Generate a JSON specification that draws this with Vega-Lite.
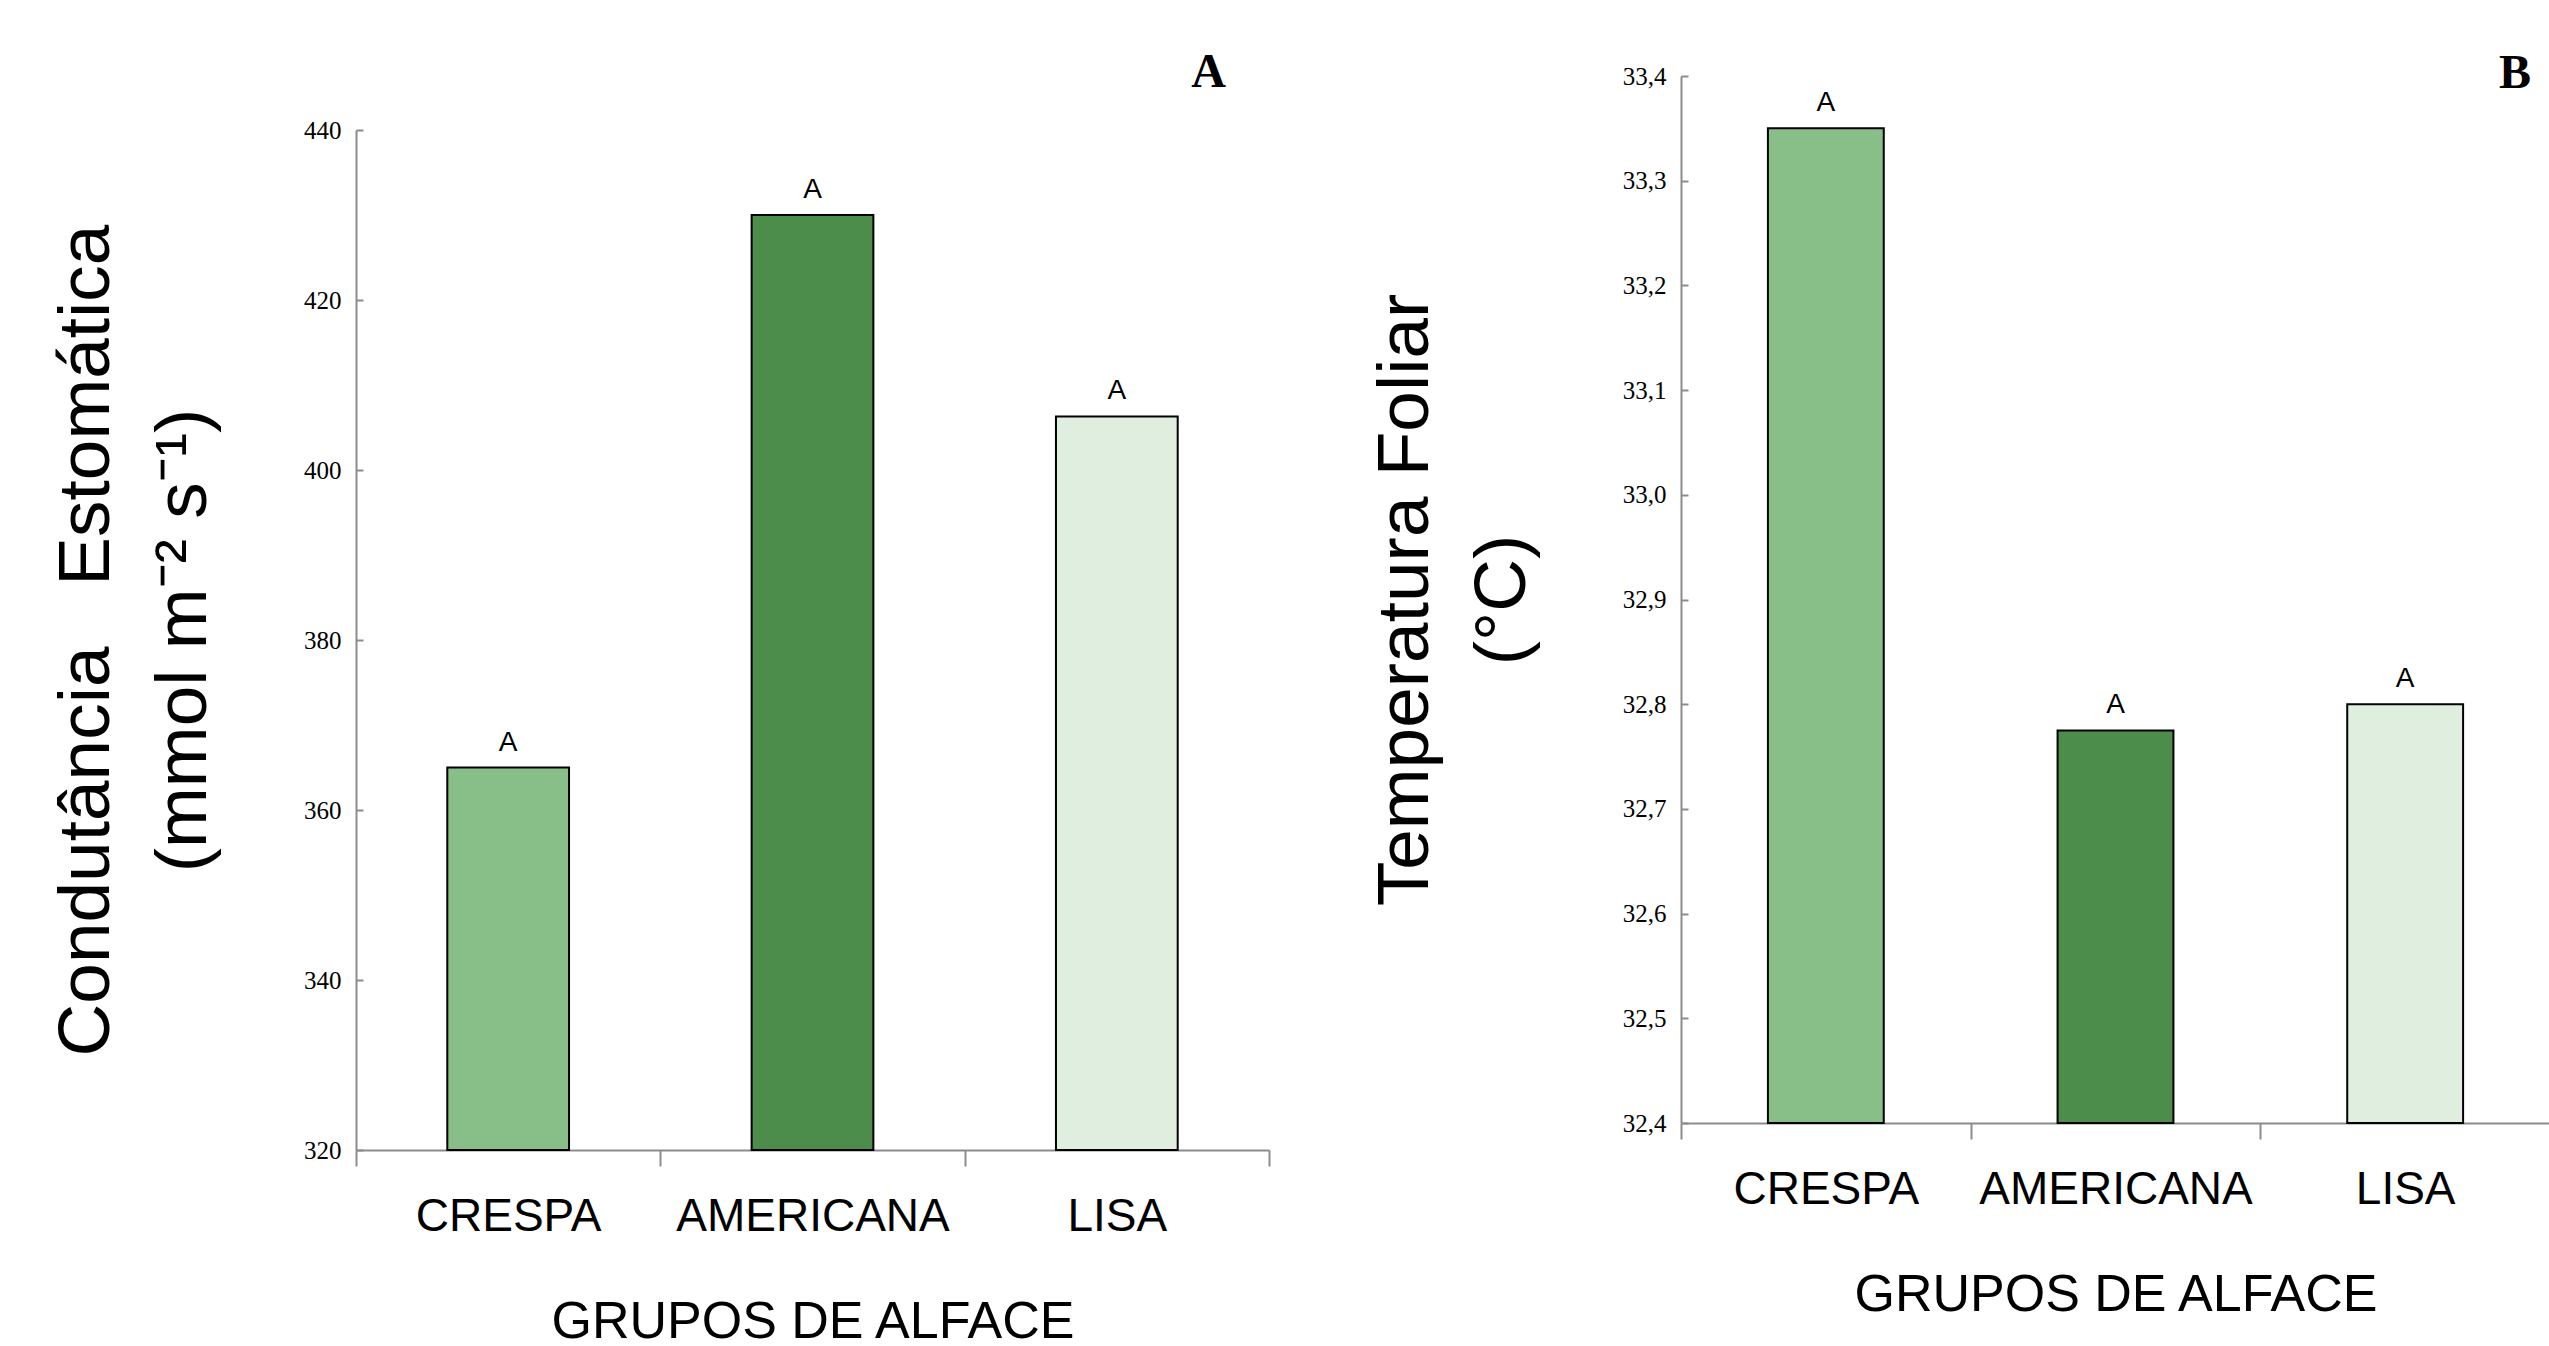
{
  "$schema": "https://vega.github.io/schema/vega-lite/v6.json",
  "background": "white",
  "padding": {"left": 50, "top": 49, "right": 0, "bottom": 0},
  "spacing": 99,
  "config": {
    "view": {"stroke": null},
    "axis": {
      "grid": false,
      "domainColor": "#8c8c8c",
      "tickColor": "#8c8c8c",
      "domainWidth": 2,
      "tickWidth": 2,
      "labelColor": "#000000",
      "titleColor": "#000000",
      "titleFontWeight": "normal"
    },
    "axisX": {
      "tickBand": "extent",
      "tickSize": 16,
      "labelAngle": 0,
      "labelLimit": 1000,
      "labelFont": "Liberation Sans",
      "labelFontSize": 46,
      "labelBaseline": "alphabetic",
      "labelPadding": 64,
      "titleFont": "Liberation Sans",
      "titleFontSize": 52,
      "titlePadding": 57
    },
    "axisY": {
      "tickSize": -7,
      "labelFont": "Liberation Serif",
      "labelFontSize": 25,
      "labelPadding": 22,
      "titleFont": "Liberation Sans",
      "titleFontSize": 73,
      "titleLineHeight": 97,
      "titlePadding": 83,
      "titleLimit": 2000
    }
  },
  "hconcat": [
    {
      "width": 913,
      "height": 1074,
      "title": {"text": "A", "anchor": "end", "frame": "group", "font": "Liberation Serif", "fontWeight": "bold", "fontSize": 48, "baseline": "alphabetic", "offset": -8, "dx": -43, "dy": 51, "color": "#000000"},
      "data": {"values": [
        {"grupo": "CRESPA", "valor": 365, "letra": "A"},
        {"grupo": "AMERICANA", "valor": 430, "letra": "A"},
        {"grupo": "LISA", "valor": 406.3, "letra": "A"}
      ]},
      "encoding": {
        "x": {"field": "grupo", "type": "nominal", "sort": null, "scale": {"paddingInner": 0, "paddingOuter": 0}, "title": "GRUPOS DE ALFACE"},
        "y": {"field": "valor", "type": "quantitative",
          "scale": {"domain": [320, 440], "range": [1074, 54], "nice": false, "zero": false},
          "axis": {"values": [320, 340, 360, 380, 400, 420, 440], "format": "d"},
          "title": ["Condutância\u00a0\u00a0\u00a0Estomática", "(mmol m⁻² s⁻¹)"]}
      },
      "layer": [
        {
          "mark": {"type": "bar", "width": {"band": 0.4}, "stroke": "#000000", "strokeWidth": 2},
          "encoding": {
            "y2": {"datum": 320},
            "color": {"field": "grupo", "type": "nominal", "legend": null,
              "scale": {"domain": ["CRESPA", "AMERICANA", "LISA"], "range": ["#88be88", "#4d8d4c", "#e0eee0"]}}
          }
        },
        {
          "mark": {"type": "text", "font": "Liberation Sans", "fontSize": 28, "baseline": "alphabetic", "dy": -17, "color": "#000000"},
          "encoding": {"text": {"field": "letra"}}
        }
      ]
    },
    {
      "width": 869,
      "height": 1047,
      "title": {"text": "B", "anchor": "end", "frame": "group", "font": "Liberation Serif", "fontWeight": "bold", "fontSize": 48, "baseline": "alphabetic", "offset": -8, "dx": -19, "dy": 64, "color": "#000000"},
      "data": {"values": [
        {"grupo": "CRESPA", "valor": 33.35, "letra": "A"},
        {"grupo": "AMERICANA", "valor": 32.775, "letra": "A"},
        {"grupo": "LISA", "valor": 32.8, "letra": "A"}
      ]},
      "encoding": {
        "x": {"field": "grupo", "type": "nominal", "sort": null, "scale": {"paddingInner": 0, "paddingOuter": 0}, "title": "GRUPOS DE ALFACE"},
        "y": {"field": "valor", "type": "quantitative",
          "scale": {"domain": [32.4, 33.4], "nice": false, "zero": false},
          "axis": {"values": [32.4, 32.5, 32.6, 32.7, 32.8, 32.9, 33.0, 33.1, 33.2, 33.3, 33.4], "labelExpr": "replace(format(datum.value, '.1f'), '.', ',')"},
          "title": ["Temperatura Foliar", "(°C)"]}
      },
      "layer": [
        {
          "mark": {"type": "bar", "width": {"band": 0.4}, "stroke": "#000000", "strokeWidth": 2},
          "encoding": {
            "y2": {"datum": 32.4},
            "color": {"field": "grupo", "type": "nominal", "legend": null,
              "scale": {"domain": ["CRESPA", "AMERICANA", "LISA"], "range": ["#88be88", "#4d8d4c", "#e0eee0"]}}
          }
        },
        {
          "mark": {"type": "text", "font": "Liberation Sans", "fontSize": 28, "baseline": "alphabetic", "dy": -17, "color": "#000000"},
          "encoding": {"text": {"field": "letra"}}
        }
      ]
    }
  ],
  "resolve": {"scale": {"color": "independent"}}
}
